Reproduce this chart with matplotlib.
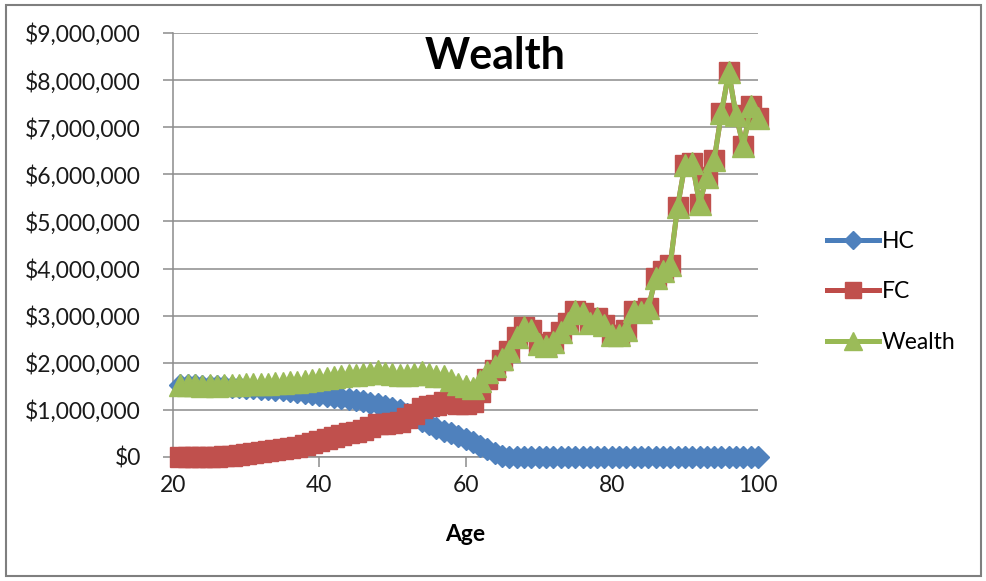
import matplotlib
matplotlib.use("Agg")
import matplotlib.pyplot as plt
from matplotlib.patches import Rectangle
from matplotlib.ticker import FuncFormatter, MultipleLocator

plt.rcParams['font.family'] = ['Lato', 'DejaVu Sans']

ages = list(range(21, 101))

# values in millions of dollars
hc = [1.52, 1.52, 1.52, 1.51, 1.51, 1.50, 1.50, 1.49, 1.48, 1.47,
      1.46, 1.45, 1.44, 1.43, 1.42, 1.40, 1.38, 1.36, 1.34, 1.32,
      1.30, 1.28, 1.26, 1.24, 1.21, 1.18, 1.15, 1.12, 1.08, 1.04,
      0.99, 0.92, 0.84, 0.76, 0.69, 0.62, 0.56, 0.50, 0.44, 0.38,
      0.31, 0.24, 0.16, 0.09, 0.03, 0.00, 0.00, 0.00, 0.00, 0.00,
      0.00, 0.00, 0.00, 0.00, 0.00, 0.00, 0.00, 0.00, 0.00, 0.00,
      0.00, 0.00, 0.00, 0.00, 0.00, 0.00, 0.00, 0.00, 0.00, 0.00,
      0.00, 0.00, 0.00, 0.00, 0.00, 0.00, 0.00, 0.00, 0.00, 0.00]

fc = [0.00, 0.00, 0.00, 0.00, 0.01, 0.01, 0.02, 0.03, 0.05, 0.07,
      0.09, 0.10, 0.12, 0.14, 0.16, 0.19, 0.22, 0.26, 0.30, 0.34,
      0.38, 0.42, 0.46, 0.50, 0.54, 0.58, 0.63, 0.70, 0.70, 0.72,
      0.75, 0.82, 0.92, 1.04, 1.08, 1.10, 1.16, 1.14, 1.12, 1.12,
      1.16, 1.38, 1.65, 1.85, 2.05, 2.25, 2.55, 2.75, 2.70, 2.40,
      2.35, 2.45, 2.65, 2.85, 3.10, 3.05, 2.85, 2.95, 2.80, 2.60,
      2.60, 2.70, 3.10, 3.08, 3.16, 3.80, 3.95, 4.08, 5.31, 6.20,
      6.25, 5.38, 5.95, 6.30, 7.30, 8.17, 7.25, 6.60, 7.45, 7.20]

wealth = [1.52, 1.52, 1.52, 1.51, 1.52, 1.51, 1.52, 1.52, 1.53, 1.54,
          1.55, 1.55, 1.56, 1.57, 1.58, 1.59, 1.60, 1.62, 1.64, 1.66,
          1.68, 1.70, 1.72, 1.74, 1.75, 1.76, 1.78, 1.82, 1.78, 1.76,
          1.74, 1.74, 1.76, 1.80, 1.77, 1.72, 1.72, 1.64, 1.56, 1.50,
          1.47, 1.62, 1.81, 1.94, 2.08, 2.25, 2.55, 2.75, 2.70, 2.40,
          2.35, 2.45, 2.65, 2.85, 3.10, 3.05, 2.85, 2.95, 2.80, 2.60,
          2.60, 2.70, 3.10, 3.08, 3.16, 3.80, 3.95, 4.08, 5.31, 6.20,
          6.25, 5.38, 5.95, 6.30, 7.30, 8.17, 7.25, 6.60, 7.45, 7.20]

to_dollars = lambda vals: [v * 1e6 for v in vals]

fig = plt.figure(figsize=(9.86, 5.81), dpi=100)
ax = fig.add_axes([173 / 986, 1 - 457 / 581, 585 / 986, 424 / 581])

ax.plot(ages, to_dollars(hc), color='#4A7EBB', lw=3.6, marker='D', ms=11.5,
        mfc='#4F81BD', mec='#4F81BD', label='HC', clip_on=False, zorder=3)
ax.plot(ages, to_dollars(fc), color='#BE4B48', lw=3.6, marker='s', ms=15,
        mfc='#C0504D', mec='#C0504D', label='FC', clip_on=False, zorder=4)
ax.plot(ages, to_dollars(wealth), color='#98B954', lw=3.6, marker='^', ms=16,
        mfc='#9BBB59', mec='#9BBB59', label='Wealth', clip_on=False, zorder=5)

ax.set_xlim(20, 100)
ax.set_ylim(0, 9e6)
ax.xaxis.set_major_locator(MultipleLocator(20))
ax.yaxis.set_major_locator(MultipleLocator(1e6))
ax.yaxis.set_major_formatter(FuncFormatter(lambda v, p: '${:,.0f}'.format(v)))

ax.grid(axis='y', color='#8c8c8c', lw=1.1)
ax.set_axisbelow(True)
for side in ('top', 'right'):
    ax.spines[side].set_visible(False)
for side in ('left', 'bottom'):
    ax.spines[side].set_color('#8c8c8c')
    ax.spines[side].set_linewidth(1.1)
ax.tick_params(axis='both', direction='out', length=7, width=1.1,
               color='#8c8c8c', labelsize=16.5, labelcolor='#1a1a1a')
ax.tick_params(axis='y', pad=16)
ax.tick_params(axis='x', pad=6)

ax.set_xlabel('Age', fontsize=16.5, fontweight='bold', labelpad=20)
fig.text(495 / 986, 1 - 56 / 581, 'Wealth', ha='center', va='center',
         fontsize=31, fontweight='bold')

fig.legend(loc='center left', bbox_to_anchor=(806 / 986, 1 - 292 / 581),
           frameon=False, fontsize=16.5, handlelength=2.3, handletextpad=0.12,
           labelspacing=1.3, markerscale=0.8)

fig.patches.append(Rectangle((6 / 986, 5 / 581), 975 / 986, 571 / 581,
                             transform=fig.transFigure, fill=False,
                             edgecolor='#7f7f7f', lw=1.5))

fig.savefig('out.png', dpi=100)
